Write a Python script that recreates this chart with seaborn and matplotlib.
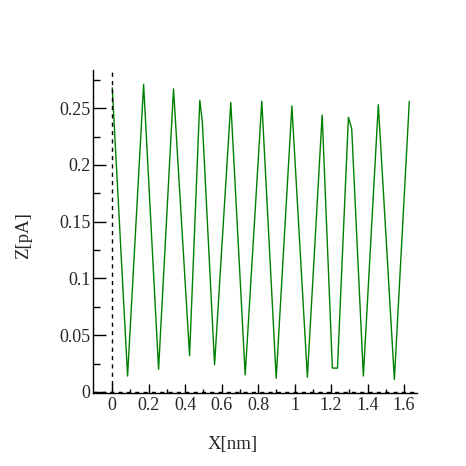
import numpy as np
import pandas as pd
import matplotlib
matplotlib.use('Agg')
import matplotlib.pyplot as plt
import seaborn as sns

# line profile values
x_nm = [0.000, 0.006, 0.084, 0.172, 0.254, 0.336, 0.424, 0.480, 0.494,
        0.561, 0.650, 0.729, 0.820, 0.899, 0.985, 1.070, 1.151, 1.207,
        1.235, 1.295, 1.313, 1.377, 1.459, 1.547, 1.629]
z_pa = [0.268, 0.250, 0.014, 0.271, 0.020, 0.267, 0.032, 0.257, 0.238,
        0.024, 0.255, 0.015, 0.256, 0.012, 0.252, 0.013, 0.244, 0.021,
        0.021, 0.242, 0.232, 0.014, 0.253, 0.011, 0.256]

xticks = [0, 0.2, 0.4, 0.6, 0.8, 1.0, 1.2, 1.4, 1.6]
xticklabels = ['0', '0.2', '0.4', '0.6', '0.8', '1', '1.2', '1.4', '1.6']
yticks = [0, 0.05, 0.1, 0.15, 0.2, 0.25]
yticklabels = ['0', '0.05', '0.1', '0.15', '0.2', '0.25']

sns.set_style('ticks')
plt.rcParams['font.family'] = ['Liberation Serif', 'DejaVu Serif']

df = pd.DataFrame({'X': x_nm, 'Z': z_pa})

fig = plt.figure(figsize=(4.66, 4.66), dpi=100)
ax = fig.add_axes([0.2002, 0.1577, 0.6946, 0.692])

sns.lineplot(data=df, x='X', y='Z', sort=False, color='green', lw=1.0, ax=ax)

ax.axvline(0, color='black', ls=(0, (3, 3)), lw=1.0)
ax.axhline(0, color='black', ls=(0, (3, 3)), lw=1.0, clip_on=False)

ax.set_xlim(-0.104, 1.671)
ax.set_ylim(-0.0005, 0.2836)
ax.set_xticks(xticks)
ax.set_xticklabels(xticklabels)
ax.set_yticks(yticks)
ax.set_yticklabels(yticklabels)
ax.set_xticks(np.arange(0.1, 1.7, 0.2), minor=True)
ax.set_yticks(np.arange(0.025, 0.28, 0.05), minor=True)

ax.tick_params(axis='both', which='both', direction='in', labelsize=13, width=1.0, color='black')
ax.tick_params(axis='x', which='major', length=6.5, pad=3)
ax.tick_params(axis='x', which='minor', length=3.2)
ax.tick_params(axis='y', which='major', length=9.4, pad=2)
ax.tick_params(axis='y', which='minor', length=4.8)

sns.despine(ax=ax)
for s in ['left', 'bottom']:
    ax.spines[s].set_linewidth(1.0)
    ax.spines[s].set_color('black')

ax.set_xlabel('')
ax.set_ylabel('')
fig.text(0.5, 1 - 444 / 466, 'X[nm]', ha='center', va='center', fontsize=13.5)
fig.text(24 / 466, 1 - 236 / 466, 'Z[pA]', ha='center', va='center', rotation=90, fontsize=13.5)

fig.savefig('out.png', dpi=100, facecolor='white')
